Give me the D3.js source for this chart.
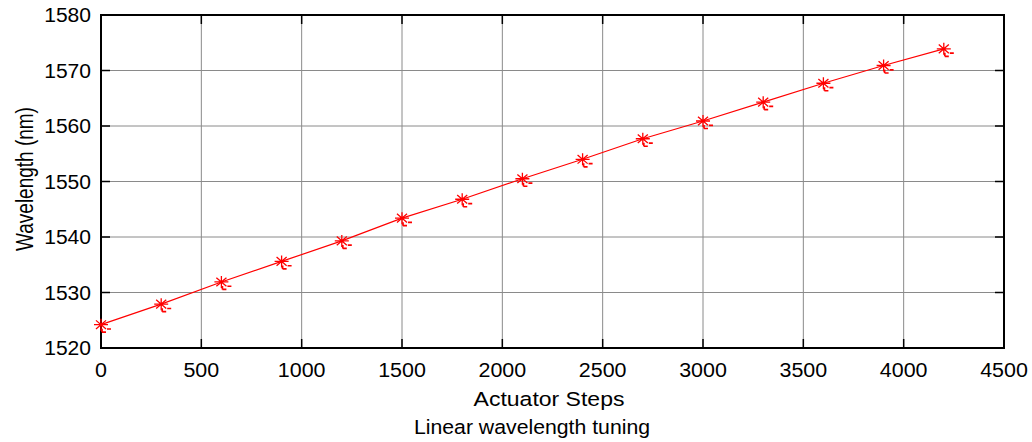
<!DOCTYPE html>
<html>
<head>
<meta charset="utf-8">
<script src="https://cdn.jsdelivr.net/npm/d3@7"></script>
<style>
  body { margin: 0; background: #fff; }
  text { font-family: "Liberation Sans", Arial, sans-serif; fill: #000; }
</style>
</head>
<body>
<div id="wrapper"></div>
<script>
// data
const steps = [0, 300, 600, 900, 1200, 1500, 1800, 2100, 2400, 2700, 3000, 3300, 3600, 3900, 4200];
const wavelength = [1524.2, 1527.9, 1531.9, 1535.6, 1539.3, 1543.4, 1546.8, 1550.5, 1554.0, 1557.7, 1560.9, 1564.3, 1567.7, 1570.9, 1573.9];
const xTicks = [0, 500, 1000, 1500, 2000, 2500, 3000, 3500, 4000, 4500];
const yTicks = [1520, 1530, 1540, 1550, 1560, 1570, 1580];

function drawChart() {
  const dims = { width: 1032, height: 442, left: 101, right: 1004, top: 15, bottom: 348 };
  const fontSize = 19.5;

  const svg = d3
    .select("#wrapper")
    .append("svg")
    .attr("width", dims.width)
    .attr("height", dims.height);

  const x = d3.scaleLinear().domain([0, 4500]).range([dims.left, dims.right]);
  const y = d3.scaleLinear().domain([1520, 1580]).range([dims.bottom, dims.top]);

  // grid
  const grid = svg.append("g").attr("stroke", "#8a8a8a").attr("stroke-width", 1);
  xTicks.slice(1, -1).forEach((t) => {
    grid.append("line")
      .attr("x1", x(t)).attr("x2", x(t))
      .attr("y1", dims.top).attr("y2", dims.bottom);
  });
  yTicks.slice(1, -1).forEach((t) => {
    grid.append("line")
      .attr("x1", dims.left).attr("x2", dims.right)
      .attr("y1", y(t)).attr("y2", y(t));
  });

  // inner ticks on all four sides
  const tickLen = 9;
  const ticks = svg.append("g").attr("stroke", "#000").attr("stroke-width", 1.5);
  xTicks.forEach((t) => {
    ticks.append("line").attr("x1", x(t)).attr("x2", x(t))
      .attr("y1", dims.bottom).attr("y2", dims.bottom - tickLen);
    ticks.append("line").attr("x1", x(t)).attr("x2", x(t))
      .attr("y1", dims.top).attr("y2", dims.top + tickLen);
  });
  yTicks.forEach((t) => {
    ticks.append("line").attr("x1", dims.left).attr("x2", dims.left + tickLen)
      .attr("y1", y(t)).attr("y2", y(t));
    ticks.append("line").attr("x1", dims.right).attr("x2", dims.right - tickLen)
      .attr("y1", y(t)).attr("y2", y(t));
  });

  // box
  svg.append("rect")
    .attr("x", dims.left).attr("y", dims.top)
    .attr("width", dims.right - dims.left)
    .attr("height", dims.bottom - dims.top)
    .attr("fill", "none")
    .attr("stroke", "#000")
    .attr("stroke-width", 2);

  // text is a bit wider than tall in the picture
  const label = (px, py, txt, anchor, sx) =>
    svg.append("text")
      .attr("transform", `translate(${px},${py}) scale(${sx},1)`)
      .attr("text-anchor", anchor)
      .attr("font-size", fontSize)
      .text(txt);

  xTicks.forEach((t) => label(x(t), 377, t, "middle", 1.1));
  yTicks.forEach((t) => label(91, y(t) + 7, t, "end", 1.08));

  label(549, 406, "Actuator Steps", "middle", 1.18);
  label(532, 434, "Linear wavelength tuning", "middle", 1.09);
  // y label: squeezed along its length, wide across
  svg.append("text")
    .attr("transform", "translate(33,179) rotate(-90) scale(1,1.3)")
    .attr("text-anchor", "middle")
    .attr("font-size", 19)
    .text("Wavelength (nm)");

  // data line
  const pts = steps.map((s, i) => [s, wavelength[i]]);
  svg.append("path")
    .datum(pts)
    .attr("fill", "none")
    .attr("stroke", "#ff0000")
    .attr("stroke-width", 1.2)
    .attr("d", d3.line().x((d) => x(d[0])).y((d) => y(d[1])));

  // asterisk markers
  const rx = 7, ry = 6;
  const dx = rx * 0.72, dy = ry * 0.72;
  const markers = svg.append("g")
    .selectAll("g")
    .data(pts)
    .join("g")
    .attr("transform", (d) => `translate(${x(d[0])},${y(d[1])})`)
    .attr("stroke", "#ff0000")
    .attr("stroke-width", 1.3);
  markers.append("path")
    .attr("fill", "none")
    .attr("d", `M${-rx},0H${rx}M0,${-ry}V${ry}M${-dx},${-dy}L${dx},${dy}M${-dx},${dy}L${dx},${-dy}`);
  // little smudges under each star, like the original export
  markers.append("path")
    .attr("fill", "none")
    .attr("stroke-width", 1.7)
    .attr("d", `M1,${ry + 1.5}H5M${rx - 1},${dy}H${rx + 3}M1,${ry - 2}V${ry + 1.5}`);
}

drawChart();
</script>
</body>
</html>
